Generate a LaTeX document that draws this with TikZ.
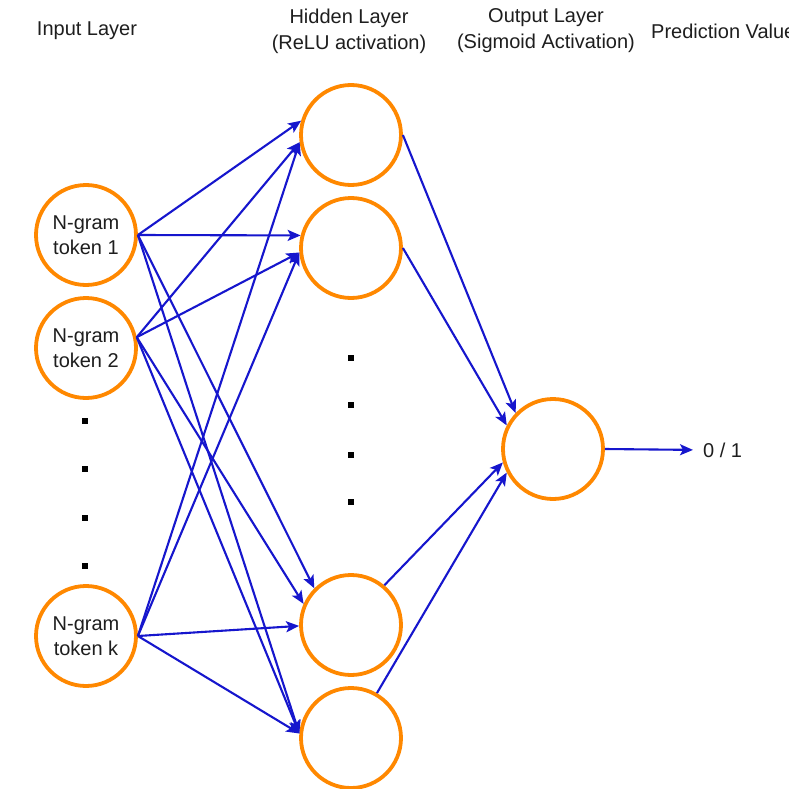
\documentclass[tikz,border=0pt]{standalone}
\usepackage{fontspec}
\setmainfont{Liberation Sans}
\usetikzlibrary{arrows.meta}
\definecolor{ringorange}{RGB}{255,136,0}
\definecolor{linkblue}{RGB}{22,22,205}
\definecolor{inkgray}{RGB}{30,30,30}

\begin{document}
\begin{tikzpicture}[x=1pt,y=-1pt,
  neuron/.style={circle, draw=ringorange, line width=3.8pt, fill=white,
    minimum size=100pt, inner sep=0pt, text=inkgray, align=center,
    font=\fontsize{20}{25}\selectfont},
  link/.style={draw=linkblue, line width=2.1pt,
    -{Stealth[length=13pt,width=11pt,inset=3pt]}},
  headtext/.style={text=inkgray, align=center, inner sep=0pt,
    font=\fontsize{20}{26}\selectfont},
  dotmark/.style={fill=black}]

\useasboundingbox (0,0) rectangle (789,789);
\fill[white] (0,0) rectangle (789,789);
\clip (0,0) rectangle (789,789);

% column headings
\node[headtext] (hin)  at (87,31)  {Input Layer};
\node[headtext] (hhid) at (349,31) {Hidden Layer\\(ReLU activation)};
\node[headtext] (hout) at (546,31) {Output Layer\\(Sigmoid Activation)};
\node[headtext, anchor=west] (hpred) at (651,31) {Prediction Value};

% input layer
\node[neuron] (i1) at (86,235) {N-gram\\token 1};
\node[neuron] (i2) at (86,348) {N-gram\\token 2};
\node[neuron] (ik) at (86,636) {N-gram\\token k};

% hidden layer
\node[neuron] (h1) at (351,135) {};
\node[neuron] (h2) at (351,248) {};
\node[neuron] (h3) at (351,625) {};
\node[neuron] (h4) at (351,738) {};

% output layer and prediction
\node[neuron] (o) at (553,449) {};
\node[headtext, anchor=west] (res) at (703,450) {0 / 1};

% ellipsis dots
\foreach \y in {421,469,518,566}
  \fill[dotmark] (82,\y-3) rectangle (88,\y+3);
\foreach \y in {358,405,455,502}
  \fill[dotmark] (348,\y-3) rectangle (354,\y+3);

% input -> hidden
\draw[link] (i1.east) -- (h1.164);
\draw[link] (i1.east) -- (h2.166);
\draw[link] (i1.east) -- (h3.135);
\draw[link] (i1.east) -- (h4.175);

\draw[link] (i2.12) -- (h1.-172);
\draw[link] (i2.12) -- (h2.-175);
\draw[link] (i2.12) -- (h3.156);
\draw[link] (i2.12) -- (h4.175);

\draw[link] (ik.east) -- (h1.-172);
\draw[link] (ik.east) -- (h2.-175);
\draw[link] (ik.east) -- (h3.-179);
\draw[link] (ik.east) -- (h4.175);

% hidden -> output
\draw[link] (h1.east) -- (o.136);
\draw[link] (h2.east) -- (o.153);
\draw[link] (h3.50)   -- (o.195);
\draw[link] (h4.60)   -- (o.207);

% output -> prediction
\draw[link, shorten >=10pt] (o.east) -- (res.west);
\end{tikzpicture}
\end{document}
